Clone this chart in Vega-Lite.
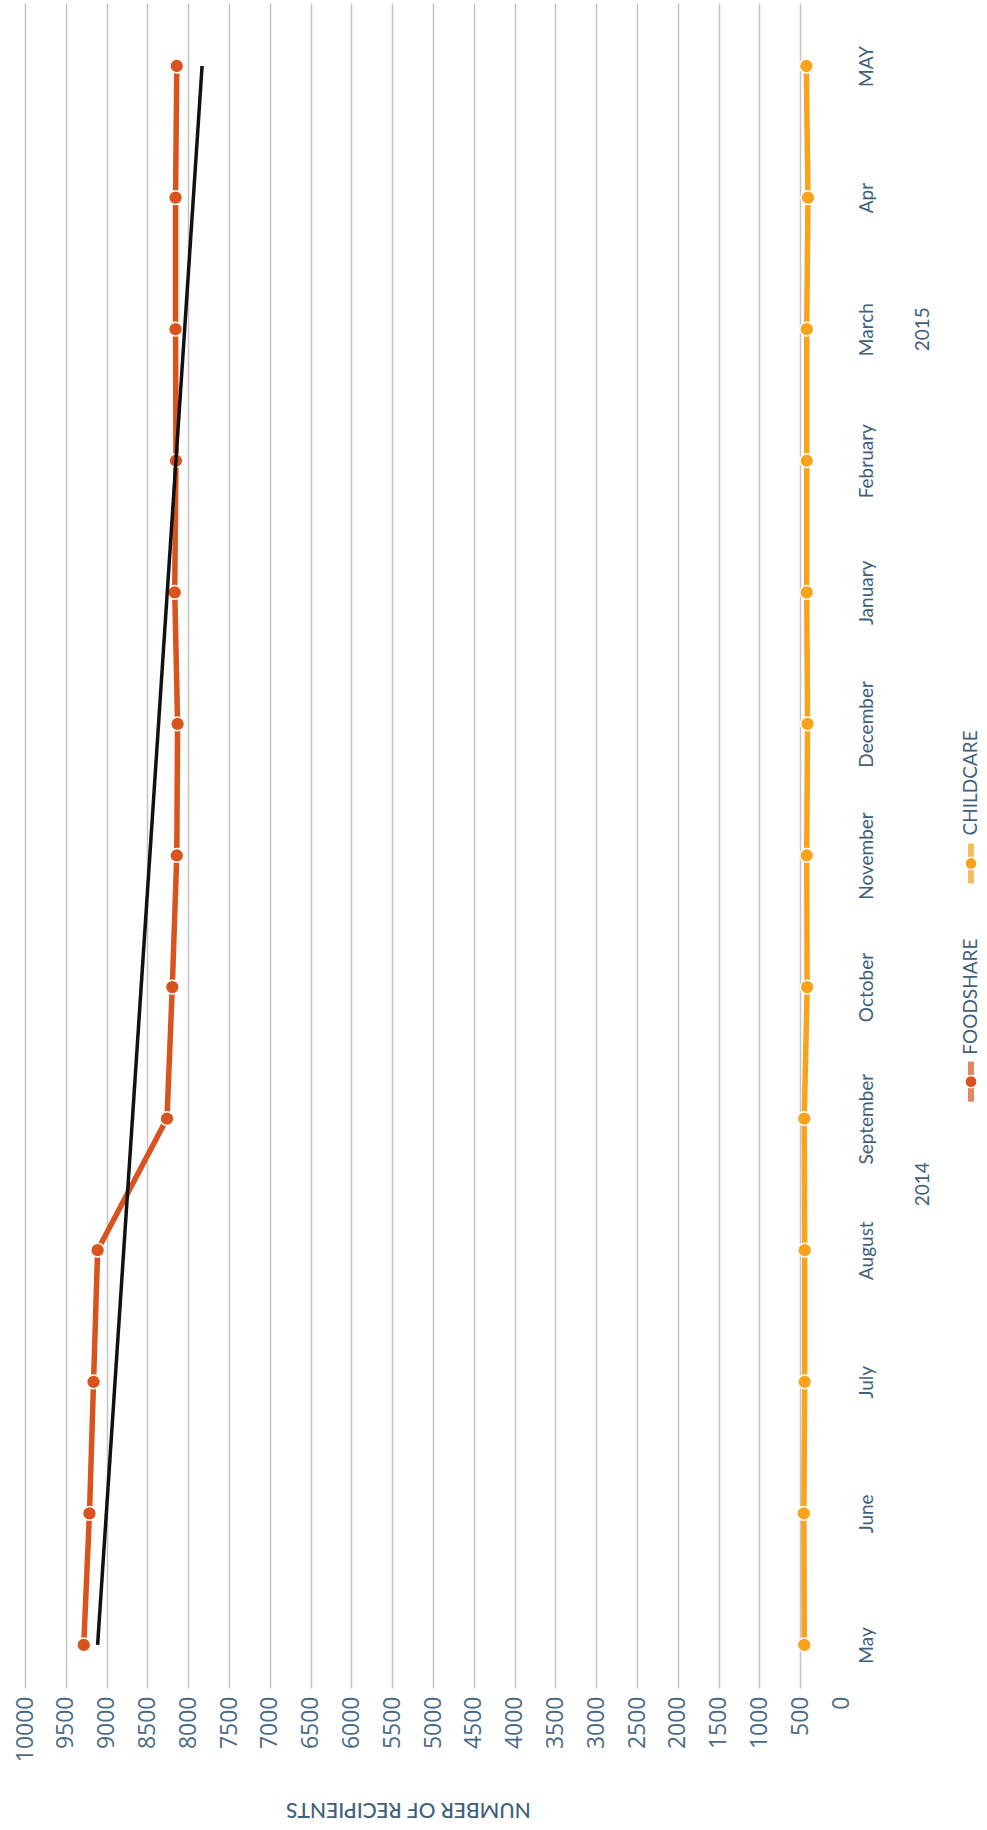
{
  "$schema": "https://vega.github.io/schema/vega-lite/v6.json",
  "width": 816,
  "height": 1685,
  "autosize": {"type": "none"},
  "padding": {"left": 25, "top": 3, "right": 146, "bottom": 142},
  "background": "white",
  "config": {"view": {"stroke": null}, "font": "Open Sans"},
  "datasets": {
    "series": [
      {"month": "May", "series": "FOODSHARE", "value": 9280},
      {"month": "June", "series": "FOODSHARE", "value": 9210},
      {"month": "July", "series": "FOODSHARE", "value": 9160},
      {"month": "August", "series": "FOODSHARE", "value": 9110},
      {"month": "September", "series": "FOODSHARE", "value": 8260},
      {"month": "October", "series": "FOODSHARE", "value": 8195},
      {"month": "November", "series": "FOODSHARE", "value": 8140},
      {"month": "December", "series": "FOODSHARE", "value": 8130},
      {"month": "January", "series": "FOODSHARE", "value": 8165},
      {"month": "February", "series": "FOODSHARE", "value": 8150},
      {"month": "March", "series": "FOODSHARE", "value": 8155},
      {"month": "Apr", "series": "FOODSHARE", "value": 8155},
      {"month": "MAY", "series": "FOODSHARE", "value": 8140},
      {"month": "May", "series": "CHILDCARE", "value": 450},
      {"month": "June", "series": "CHILDCARE", "value": 455},
      {"month": "July", "series": "CHILDCARE", "value": 445},
      {"month": "August", "series": "CHILDCARE", "value": 445},
      {"month": "September", "series": "CHILDCARE", "value": 450},
      {"month": "October", "series": "CHILDCARE", "value": 415},
      {"month": "November", "series": "CHILDCARE", "value": 420},
      {"month": "December", "series": "CHILDCARE", "value": 410},
      {"month": "January", "series": "CHILDCARE", "value": 420},
      {"month": "February", "series": "CHILDCARE", "value": 420},
      {"month": "March", "series": "CHILDCARE", "value": 420},
      {"month": "Apr", "series": "CHILDCARE", "value": 405},
      {"month": "MAY", "series": "CHILDCARE", "value": 425}
    ],
    "trend": [
      {"month": "May", "value": 9110},
      {"month": "MAY", "value": 7830}
    ]
  },
  "layer": [
    {
      "data": {"name": "series"},
      "mark": {"type": "line", "strokeWidth": 5.5},
      "encoding": {
        "x": {
          "field": "value", "type": "quantitative",
          "scale": {"domain": [0, 10000], "reverse": true, "nice": false, "zero": false},
          "axis": {
            "orient": "bottom",
            "values": [0, 500, 1000, 1500, 2000, 2500, 3000, 3500, 4000, 4500, 5000, 5500, 6000, 6500, 7000, 7500, 8000, 8500, 9000, 9500, 10000],
            "format": "d",
            "labelAngle": 270, "labelAlign": "right", "labelBaseline": "middle",
            "labelPadding": 8, "labelFontSize": 23, "labelColor": "#4a6a84", "labelFont": "Open Sans",
            "labelOverlap": false, "labelFlush": false,
            "ticks": false, "domain": false,
            "grid": true,
            "gridColor": {"condition": {"test": "datum.value === 0", "value": "transparent"}, "value": "#c4c4c4"},
            "gridWidth": 1.5,
            "title": "NUMBER OF RECIPIENTS", "titleAngle": 180, "titlePadding": 58, "titleX": 383,
            "titleFont": "Lato", "titleFontSize": 21, "titleFontWeight": 500, "titleColor": "#3f607a"
          }
        },
        "y": {
          "field": "month", "type": "nominal",
          "scale": {
            "type": "point",
            "domain": ["MAY", "Apr", "March", "February", "January", "December", "November", "October", "September", "August", "July", "June", "May"],
            "padding": 0.403, "align": 0.594
          },
          "axis": {
            "orient": "right", "labelAngle": 270, "labelAlign": "center", "labelBaseline": "top",
            "labelPadding": 16, "labelFontSize": 19, "labelFont": "Lato", "labelColor": "#3f607a",
            "ticks": false, "domain": false, "grid": false, "title": null, "labelOverlap": false
          }
        },
        "color": {
          "field": "series", "type": "nominal",
          "scale": {"domain": ["FOODSHARE", "CHILDCARE"], "range": ["#D9531E", "#F9A21B"]},
          "legend": null
        },
        "order": {"value": null}
      }
    },
    {
      "data": {"name": "series"},
      "mark": {"type": "point", "filled": true, "size": 190, "stroke": "white", "strokeWidth": 1.5, "opacity": 1},
      "encoding": {
        "x": {"field": "value", "type": "quantitative"},
        "y": {"field": "month", "type": "nominal"},
        "color": {"field": "series", "type": "nominal", "legend": null},
        "stroke": {"value": "white"}
      }
    },
    {
      "data": {"name": "trend"},
      "mark": {"type": "line", "color": "#111111", "strokeWidth": 3.5},
      "encoding": {
        "x": {"field": "value", "type": "quantitative"},
        "y": {"field": "month", "type": "nominal"}
      }
    },
    {
      "data": {"values": [{}]},
      "mark": {"type": "text", "angle": 270, "fontSize": 19, "font": "Lato", "color": "#3f607a", "dx": 66, "align": "center", "baseline": "middle"},
      "encoding": {
        "x": {"datum": -1000, "type": "quantitative"},
        "y": {"datum": "August", "type": "nominal"},
        "text": {"value": "2014"}
      }
    },
    {
      "data": {"values": [{}]},
      "mark": {"type": "text", "angle": 270, "fontSize": 19, "font": "Lato", "color": "#3f607a", "align": "center", "baseline": "middle"},
      "encoding": {
        "x": {"datum": -1000, "type": "quantitative"},
        "y": {"datum": "March", "type": "nominal"},
        "text": {"value": "2015"}
      }
    },
    {
      "data": {"values": [{}]},
      "mark": {"type": "point", "shape": "M0,-1L0,1", "filled": false, "stroke": "#D9531E", "strokeWidth": 6, "size": 1600},
      "encoding": {
        "x": {"datum": -1593, "type": "quantitative"},
        "y": {"datum": "September", "type": "nominal"},
        "yOffset": {"value": -37}
      }
    },
    {
      "data": {"values": [{}]},
      "mark": {"type": "point", "filled": true, "fill": "#D9531E", "stroke": "white", "strokeWidth": 1.5, "size": 150, "opacity": 1},
      "encoding": {
        "x": {"datum": -1593, "type": "quantitative"},
        "y": {"datum": "September", "type": "nominal"},
        "yOffset": {"value": -37}
      }
    },
    {
      "data": {"values": [{}]},
      "mark": {"type": "text", "angle": 270, "fontSize": 19, "font": "Lato", "color": "#3f607a", "dx": 64, "align": "left", "baseline": "middle"},
      "encoding": {
        "x": {"datum": -1593, "type": "quantitative"},
        "y": {"datum": "September", "type": "nominal"},
        "text": {"value": "FOODSHARE"}
      }
    },
    {
      "data": {"values": [{}]},
      "mark": {"type": "point", "shape": "M0,-1L0,1", "filled": false, "stroke": "#F9A21B", "strokeWidth": 6, "size": 1600},
      "encoding": {
        "x": {"datum": -1593, "type": "quantitative"},
        "y": {"datum": "November", "type": "nominal"},
        "yOffset": {"value": 8}
      }
    },
    {
      "data": {"values": [{}]},
      "mark": {"type": "point", "filled": true, "fill": "#F9A21B", "stroke": "white", "strokeWidth": 1.5, "size": 150, "opacity": 1},
      "encoding": {
        "x": {"datum": -1593, "type": "quantitative"},
        "y": {"datum": "November", "type": "nominal"},
        "yOffset": {"value": 8}
      }
    },
    {
      "data": {"values": [{}]},
      "mark": {"type": "text", "angle": 270, "fontSize": 19, "font": "Lato", "color": "#3f607a", "dx": 20, "align": "left", "baseline": "middle"},
      "encoding": {
        "x": {"datum": -1593, "type": "quantitative"},
        "y": {"datum": "November", "type": "nominal"},
        "text": {"value": "CHILDCARE"}
      }
    }
  ]
}
